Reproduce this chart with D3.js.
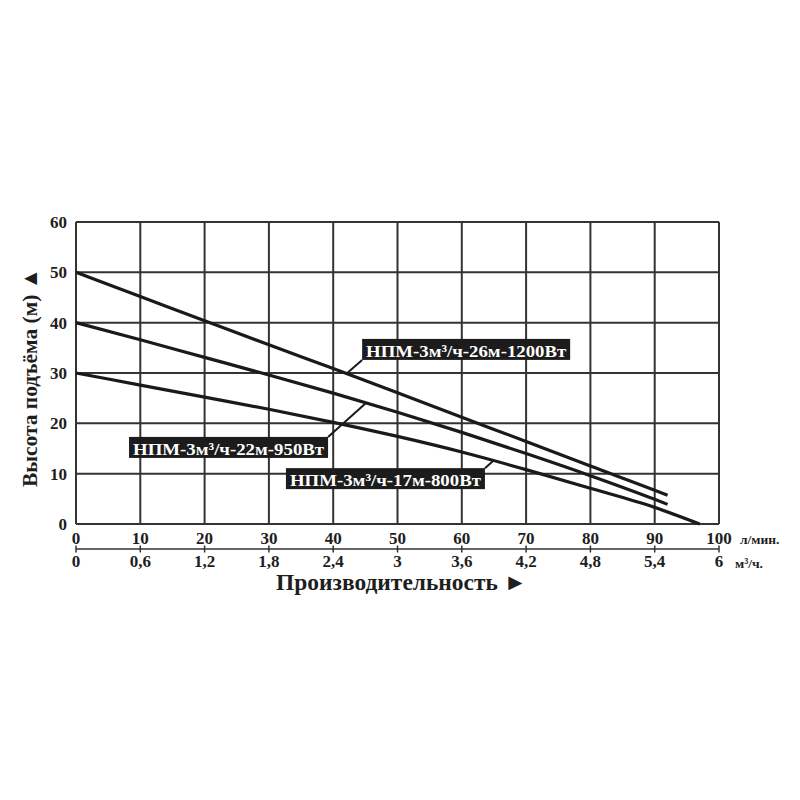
<!DOCTYPE html>
<html>
<head>
<meta charset="utf-8">
<script src="https://cdn.jsdelivr.net/npm/d3@7"></script>
<style>
  html, body { margin: 0; padding: 0; background: #fff; }
  svg { display: block; }
  text { font-family: "Liberation Serif", "Times New Roman", serif; font-weight: bold; }
</style>
</head>
<body>
<svg id="chart" width="800" height="800"></svg>
<script>
// ---- data ----
const flowTicks = [0, 10, 20, 30, 40, 50, 60, 70, 80, 90, 100];            // л/мин
const flowM3Labels = ["0", "0,6", "1,2", "1,8", "2,4", "3", "3,6", "4,2", "4,8", "5,4", "6"]; // м³/ч
const headTicks = [0, 10, 20, 30, 40, 50, 60];

const series1200 = [[0, 50], [10, 45.2], [20, 40.4], [30, 35.6], [40, 30.9], [50, 26.1], [60, 21.2], [70, 16.4], [80, 11.5], [90, 6.7], [92, 5.7]];
const series950  = [[0, 40], [10, 36.6], [20, 33.1], [30, 29.6], [40, 26.0], [50, 22.2], [60, 18.2], [70, 14.0], [80, 9.6], [90, 4.9], [92, 3.9]];
const series800  = [[0, 30], [10, 27.6], [20, 25.2], [30, 22.8], [40, 20.2], [50, 17.4], [60, 14.3], [70, 10.8], [80, 7.1], [90, 3.3], [97, 0]];

const labelNames = ["НПМ-3м³/ч-26м-1200Вт", "НПМ-3м³/ч-22м-950Вт", "НПМ-3м³/ч-17м-800Вт"];

// ---- layout ----
const svg = d3.select("#chart");
const x = d3.scaleLinear().domain([0, 100]).range([76, 719]);
const y = d3.scaleLinear().domain([0, 60]).range([524, 222]);
const ink = "#1e1e1e";

// grid
const g = svg.append("g");
g.selectAll(".vgrid").data(flowTicks).join("line")
  .attr("x1", d => x(d)).attr("x2", d => x(d))
  .attr("y1", y(0)).attr("y2", y(60))
  .attr("stroke", "#333").attr("stroke-width", 2);
g.selectAll(".hgrid").data(headTicks).join("line")
  .attr("x1", x(0)).attr("x2", x(100))
  .attr("y1", d => y(d)).attr("y2", d => y(d))
  .attr("stroke", "#333").attr("stroke-width", 2);

// y tick labels
g.selectAll(".ylab").data(headTicks).join("text")
  .attr("x", 67).attr("y", d => y(d)).attr("dy", "0.35em")
  .attr("text-anchor", "end").attr("font-size", 17).attr("fill", ink)
  .text(d => d);

// x tick labels (l/min)
g.selectAll(".xlab").data(flowTicks).join("text")
  .attr("x", d => x(d)).attr("y", 538).attr("dy", "0.35em")
  .attr("text-anchor", "middle").attr("font-size", 17).attr("fill", ink)
  .text(d => d);
svg.append("text").attr("x", 740).attr("y", 539).attr("dy", "0.35em")
  .attr("font-size", 13.5).attr("fill", ink).text("л/мин.");

// second axis (m3/h)
const axisY = 549;
svg.append("line").attr("x1", x(0)).attr("x2", x(100)).attr("y1", axisY).attr("y2", axisY)
  .attr("stroke", "#333").attr("stroke-width", 1.5);
g.selectAll(".xtick2").data(flowTicks).join("line")
  .attr("x1", d => x(d)).attr("x2", d => x(d))
  .attr("y1", axisY - 3.5).attr("y2", axisY + 3.5)
  .attr("stroke", "#333").attr("stroke-width", 1.5);
g.selectAll(".xlab2").data(flowTicks).join("text")
  .attr("x", d => x(d)).attr("y", 561).attr("dy", "0.35em")
  .attr("text-anchor", "middle").attr("font-size", 17).attr("fill", ink)
  .text((d, i) => flowM3Labels[i]);
svg.append("text").attr("x", 735).attr("y", 563).attr("dy", "0.35em")
  .attr("font-size", 13.5).attr("fill", ink).text("м³/ч.");

// axis titles
svg.append("text").attr("x", 401.5).attr("y", 582).attr("dy", "0.35em")
  .attr("text-anchor", "middle").attr("font-size", 23).attr("fill", ink)
  .attr("textLength", 251).attr("lengthAdjust", "spacingAndGlyphs")
  .text("Производительность ►");
svg.append("text")
  .attr("transform", `translate(29, ${(268 + 487) / 2}) rotate(-90)`)
  .attr("dy", "0.35em")
  .attr("text-anchor", "middle").attr("font-size", 22).attr("fill", ink)
  .attr("textLength", 219).attr("lengthAdjust", "spacingAndGlyphs")
  .text("Высота подъёма (м) ▲");

// curves
const line = d3.line().x(d => x(d[0])).y(d => y(d[1])).curve(d3.curveMonotoneX);
[series1200, series950, series800].forEach(s => {
  svg.append("path").datum(s).attr("d", line)
    .attr("fill", "none").attr("stroke", "#1a1a1a").attr("stroke-width", 3.2)
    .attr("stroke-linecap", "butt");
});

// interpolate a series at given flow
function at(s, fx) {
  for (let i = 1; i < s.length; i++) {
    if (fx <= s[i][0]) {
      const t = (fx - s[i - 1][0]) / (s[i][0] - s[i - 1][0]);
      return s[i - 1][1] + t * (s[i][1] - s[i - 1][1]);
    }
  }
  return s[s.length - 1][1];
}

// labels: anchor (data coords) of box corner, corner type, leader target flow, box width in flow units
const labels = [
  { name: labelNames[0], series: series1200, ax: 44.5, ay: 32.6, corner: "bl", tx: 42.1, wu: 32.35 },
  { name: labelNames[1], series: series950, ax: 39.2, ay: 17.3, corner: "tr", tx: 45.1, wu: 30.95 },
  { name: labelNames[2], series: series800, ax: 63.6, ay: 11.1, corner: "tr", tx: 64.9, wu: 30.95 }
];

labels.forEach(L => {
  const cx = x(L.ax), cy = y(L.ay);
  svg.append("line").attr("x1", cx).attr("y1", cy)
    .attr("x2", x(L.tx)).attr("y2", y(at(L.series, L.tx)))
    .attr("stroke", "#1a1a1a").attr("stroke-width", 2);
  const grp = svg.append("g");
  const w = x(L.wu) - x(0), h = 21;
  let bx, by;
  if (L.corner === "bl") { bx = cx; by = cy - h; }
  else { bx = cx - w; by = cy; }
  grp.append("rect").attr("fill", "#1c1c1c")
    .attr("x", bx).attr("y", by).attr("width", w).attr("height", h);
  grp.append("text").attr("font-size", 17.5).attr("fill", "#fff")
    .attr("x", bx + 4).attr("y", by + h / 2 + 1).attr("dy", "0.35em")
    .attr("textLength", w - 8).attr("lengthAdjust", "spacingAndGlyphs")
    .text(L.name);
});
</script>
</body>
</html>
